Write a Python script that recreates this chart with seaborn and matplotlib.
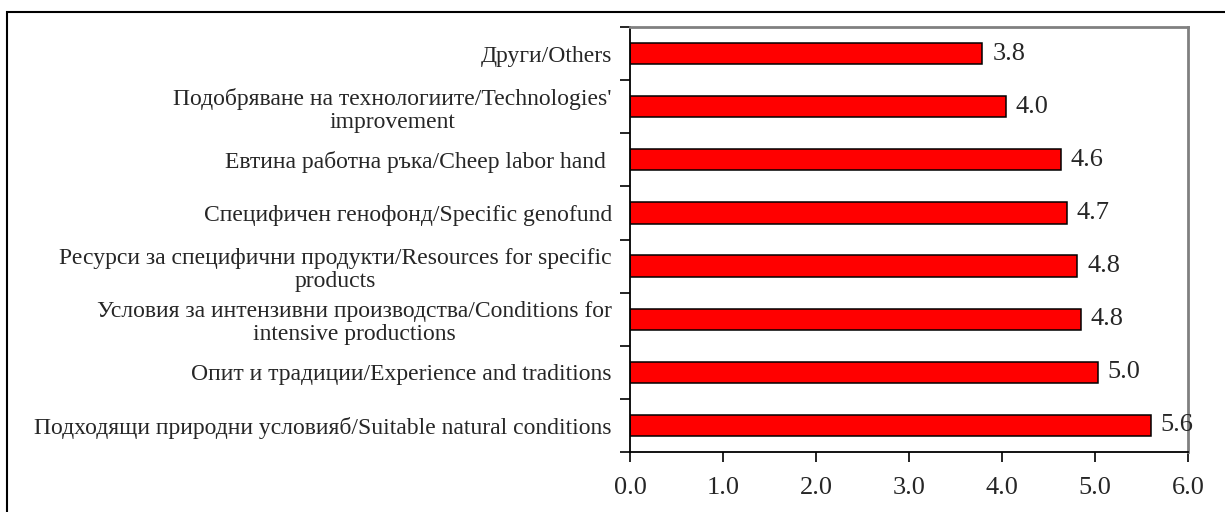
import matplotlib
matplotlib.use("Agg")
import matplotlib.pyplot as plt
import seaborn as sns
import pandas as pd
from matplotlib.patches import Rectangle
from matplotlib.ticker import FixedLocator


# DATA (top to bottom, as shown)
categories = [
    "Други/Others",
    "Подобряване на технологиите/Technologies'\nimprovement",
    "Евтина работна ръка/Cheep labor hand ",
    "Специфичен генофонд/Specific genofund",
    "Ресурси за специфични продукти/Resources for specific\nproducts",
    "Условия за интензивни производства/Conditions for\nintensive productions",
    "Опит и традиции/Experience and traditions",
    "Подходящи природни условияб/Suitable natural conditions",
]
values = [3.79, 4.04, 4.63, 4.70, 4.81, 4.85, 5.03, 5.60]
x_ticks = [0, 1, 2, 3, 4, 5, 6]

df = pd.DataFrame({"factor": categories, "score": values})

# STYLE
sns.set_style("white")
plt.rcParams["font.family"] = ["Liberation Serif", "DejaVu Serif"]

W, H = 1225, 512
fig = plt.figure(figsize=(W / 100, H / 100), dpi=100)
ax = fig.add_axes([630 / W, 1 - 452 / H, 558 / W, 425 / H])

sns.barplot(data=df, x="score", y="factor", orient="h", color="#ff0000",
            saturation=1, width=0.4, edgecolor="black", linewidth=1.1, ax=ax)

ax.set_xlim(0, 6)
ax.set_ylim(len(categories) - 0.5, -0.5)
ax.set_xlabel("")
ax.set_ylabel("")

# x axis
ax.set_xticks(x_ticks)
ax.set_xticklabels([f"{t:.1f}" for t in x_ticks], fontsize=19)
ax.tick_params(axis="x", direction="out", length=7, width=1.2, color="black", pad=11, bottom=True)

# y axis: ticks between categories, labels centred on bars
ax.tick_params(axis="y", which="major", length=0, pad=13, labelsize=17)
ax.yaxis.set_minor_locator(FixedLocator([i - 0.5 for i in range(len(categories) + 1)]))
ax.tick_params(axis="y", which="minor", direction="out", length=7, width=1.2, color="black", left=True)
for lab in ax.get_yticklabels():
    lab.set_multialignment("center")
    lab.set_linespacing(1.15)

# spines
for s in ["left", "bottom"]:
    ax.spines[s].set_color("black")
    ax.spines[s].set_linewidth(1.3)
for s in ["top", "right"]:
    ax.spines[s].set_color("#808080")
    ax.spines[s].set_linewidth(2)

# value labels
ax.bar_label(ax.containers[0], fmt="%.1f", padding=7, fontsize=19)

# outer frame (only top and left edges visible in picture)
fig.add_artist(Rectangle((7 / W, -0.1), 2, 1 - 12 / H + 0.1, transform=fig.transFigure,
                         fill=False, edgecolor="black", linewidth=1.5))

fig.savefig("out.png", dpi=100)
